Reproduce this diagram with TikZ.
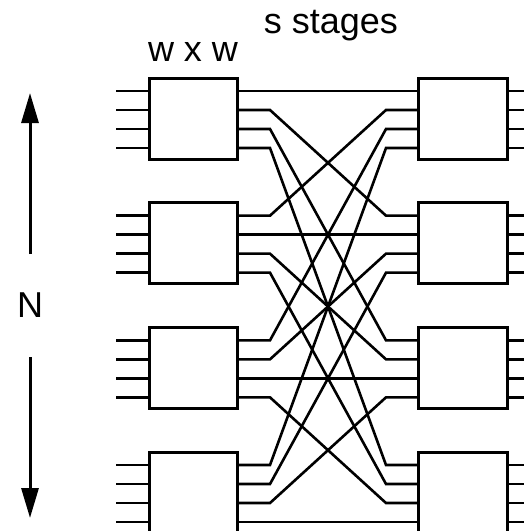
\documentclass[tikz,border=0pt]{standalone}
\usepackage{fontspec}
\setmainfont{Liberation Sans}
\usetikzlibrary{arrows.meta}
\begin{document}
\begin{tikzpicture}[x=1pt,y=-1pt,
  sw/.style={draw, line width=3pt, minimum width=88pt, minimum height=81pt, inner sep=0pt, outer sep=0pt},
  wire/.style={line width=2.6pt},
  lbl/.style={font=\fontsize{36}{40}\selectfont, anchor=base, inner sep=0pt},
  dimarrow/.style={line width=3pt, -{Triangle[length=30pt,width=17pt]}}]
\useasboundingbox (0,0) rectangle (524,531);
\foreach \i in {1,...,4} {
  \pgfmathsetmacro\btop{78+124.67*(\i-1)}
  \node[sw] (L\i) at (193,\btop+40.5) {};
  \node[sw, minimum width=89pt] (R\i) at (462.5,\btop+40.5) {};
  \foreach \j in {1,...,4} {
    \pgfmathsetmacro\py{\btop+13+19*(\j-1)}
    \coordinate (L\i-in\j) at (116,\py);
    \coordinate (L\i-w\j) at (149,\py);
    \coordinate (L\i-o\j) at (237,\py);
    \coordinate (L\i-b\j) at (270,\py);
    \coordinate (R\i-b\j) at (386,\py);
    \coordinate (R\i-i\j) at (418,\py);
    \coordinate (R\i-e\j) at (507,\py);
    \coordinate (R\i-out\j) at (524,\py);
  }
}
\foreach \i in {1,...,4} {
  \foreach \j in {1,...,4} {
    \draw[wire] (L\i-in\j) -- (L\i-w\j);
    \draw[wire] (R\i-e\j) -- (R\i-out\j);
    \draw[wire] (L\i-o\j) -- (L\i-b\j) -- (R\j-b\i) -- (R\j-i\i);
  }
}
\node[lbl] (wxw) at (193,61.5) {w x w};
\node[lbl] (stages) at (331,33) {s stages};
\node[lbl] (N) at (30,317) {N};
\coordinate (upS) at (30,254);
\coordinate (upE) at (30,93);
\coordinate (dnS) at (30,357);
\coordinate (dnE) at (30,518);
\draw[dimarrow] (upS) -- (upE);
\draw[dimarrow] (dnS) -- (dnE);
\end{tikzpicture}
\end{document}
